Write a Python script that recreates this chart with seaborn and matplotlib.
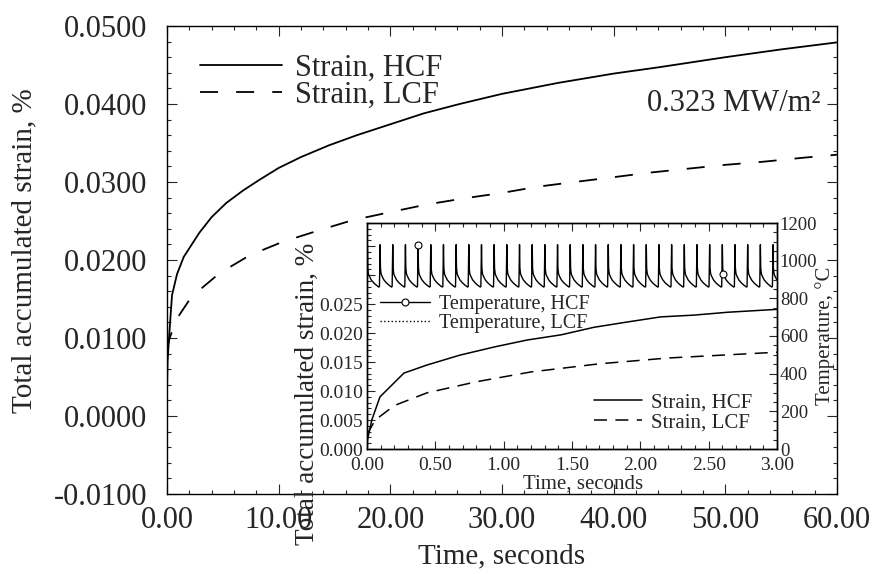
import numpy as np
import matplotlib
matplotlib.use("Agg")
import matplotlib.pyplot as plt
import seaborn as sns
from matplotlib.lines import Line2D
from matplotlib.ticker import MultipleLocator, FormatStrFormatter, FuncFormatter

# main plot: accumulated strain over 60 s
t_main_hcf = [0.0, 0.05, 0.18, 0.45, 0.9, 1.5, 2.9, 4.0, 5.3, 6.8, 8.3, 10.0, 12.0,
              14.5, 17.0, 20.0, 23.0, 26.2, 30.0, 35.0, 40.0, 44.0, 50.0, 55.0, 60.0]
strain_main_hcf = [0.0030, 0.0070, 0.0100, 0.0155, 0.0182, 0.0204, 0.0235, 0.0255,
                   0.0273, 0.0289, 0.0303, 0.0318, 0.0332, 0.0347, 0.0360, 0.0374,
                   0.0388, 0.0400, 0.0413, 0.0427, 0.0439, 0.0447, 0.0460, 0.0470,
                   0.0479]

t_main_lcf = [0.0, 0.2, 0.8, 2.2, 4.7, 7.4, 10.3, 13.6, 16.6, 20.2, 23.2, 26.6, 30.0,
              33.2, 36.5, 39.9, 43.2, 46.6, 50.0, 53.4, 56.9, 60.0]
strain_main_lcf = [0.0085, 0.0098, 0.0123, 0.0153, 0.0183, 0.0206, 0.0223, 0.0238,
                   0.0251, 0.0262, 0.0271, 0.0279, 0.0286, 0.0294, 0.0300, 0.0306,
                   0.0312, 0.0317, 0.0322, 0.0326, 0.0331, 0.0335]

# inset: first 3 s
t_in_hcf = [0.0, 0.007, 0.035, 0.095, 0.27, 0.44, 0.68, 0.93, 1.17, 1.42, 1.66, 1.90,
            2.15, 2.39, 2.64, 3.0]
strain_in_hcf = [0.0008, 0.0020, 0.0050, 0.0090, 0.0131, 0.0145, 0.0162, 0.0176,
                 0.0188, 0.0197, 0.0210, 0.0219, 0.0228, 0.0231, 0.0236, 0.0241]

t_in_lcf = [0.0, 0.06, 0.2, 0.44, 0.8, 1.2, 1.7, 2.2, 2.6, 3.0]
strain_in_lcf = [0.0025, 0.0050, 0.0075, 0.0097, 0.0116, 0.0133, 0.0147, 0.0157,
                 0.0162, 0.0167]

# one temperature cycle (HCF), phase within a cycle -> deg C, repeated every cycle
cycle_phase = [0.0, 0.03, 0.08, 0.15, 0.30, 0.50, 0.70, 0.90, 0.95, 0.975]
cycle_temp = [1085, 960, 930, 918, 898, 882, 870, 860, 862, 960]
cycle_period = 0.09275
first_peak = 0.003
n_cycles = 33

sns.set_style("ticks")
plt.rcParams["font.family"] = ["Liberation Serif", "DejaVu Serif"]
plt.rcParams["axes.unicode_minus"] = False
plt.rcParams["xtick.direction"] = "in"
plt.rcParams["ytick.direction"] = "in"

# build temperature trace from the repeated cycle
t_temp = []
temp_hcf = []
for k in range(n_cycles):
    for ph, T in zip(cycle_phase, cycle_temp):
        tt = first_peak + (k + ph) * cycle_period
        if tt <= 3.0:
            t_temp.append(tt)
            temp_hcf.append(T)
t_temp = np.array(t_temp)
temp_hcf = np.array(temp_hcf)
mark_idx = [4 * len(cycle_phase), 28 * len(cycle_phase) + 2]

fig = plt.figure(figsize=(8.78, 5.74), dpi=100)
W, H = 878, 574
ax = fig.add_axes([167 / W, 1 - 494 / H, (837 - 167) / W, (494 - 26) / H])

sns.lineplot(x=t_main_hcf, y=strain_main_hcf, ax=ax, color="black", lw=1.3,
             label="Strain, HCF")
sns.lineplot(x=t_main_lcf, y=strain_main_lcf, ax=ax, color="black", lw=1.3,
             linestyle=(0, (10, 10)), label="Strain, LCF")

ax.set_xlim(0, 60)
ax.set_ylim(-0.01, 0.05)
ax.xaxis.set_major_locator(MultipleLocator(10))
ax.xaxis.set_minor_locator(MultipleLocator(2))
ax.yaxis.set_major_locator(MultipleLocator(0.01))
ax.yaxis.set_minor_locator(MultipleLocator(0.002))
ax.xaxis.set_major_formatter(FormatStrFormatter("%.2f"))
ax.yaxis.set_major_formatter(FormatStrFormatter("%.4f"))
ax.tick_params(which="both", top=True, right=True, labelsize=22, width=0.8)
ax.tick_params(which="major", length=7)
ax.tick_params(which="minor", length=3)
ax.tick_params(axis="x", which="major", pad=9)
ax.tick_params(axis="y", which="major", pad=14)
for s in ax.spines.values():
    s.set_linewidth(1.0)
    s.set_color("black")
ax.set_xlabel("Time, seconds", fontsize=21)
ax.set_ylabel("Total accumulated strain, %", fontsize=21)
# label coords: top edge for the x label, right edge for the y label
ax.xaxis.set_label_coords(0.5, -0.105)
ax.yaxis.set_label_coords(-0.193, 0.519)
ax.legend(loc="upper left", bbox_to_anchor=(0.049, 0.941), frameon=False,
          fontsize=22, handlelength=2.7, handletextpad=0.4, labelspacing=-0.05,
          borderpad=0, borderaxespad=0)
ax.text(0.975, 0.835, "0.323 MW/m²", transform=ax.transAxes, ha="right",
        va="center", fontsize=22)

# inset
ax_in = fig.add_axes([367 / W, 1 - 449 / H, (777 - 367) / W, (449 - 223) / H])
ax_in.set_facecolor("white")
sns.lineplot(x=t_in_hcf, y=strain_in_hcf, ax=ax_in, color="black", lw=1.1,
             label="Strain, HCF")
sns.lineplot(x=t_in_lcf, y=strain_in_lcf, ax=ax_in, color="black", lw=1.1,
             linestyle=(0, (8.5, 5.5)), label="Strain, LCF")
ax_in.set_xlim(0, 3)
ax_in.set_ylim(0, 0.039)
ax_in.xaxis.set_major_locator(MultipleLocator(0.5))
ax_in.xaxis.set_minor_locator(MultipleLocator(0.1))
ax_in.yaxis.set_major_locator(MultipleLocator(0.005))
ax_in.yaxis.set_minor_locator(MultipleLocator(0.001))
ax_in.xaxis.set_major_formatter(FormatStrFormatter("%.2f"))
ax_in.yaxis.set_major_formatter(
    FuncFormatter(lambda v, p: "%.3f" % v if v <= 0.0251 else ""))
ax_in.tick_params(which="both", top=True, labelsize=14, width=0.8)
ax_in.tick_params(which="major", length=6)
ax_in.tick_params(which="minor", length=3)
ax_in.tick_params(axis="x", pad=6)
ax_in.tick_params(axis="y", pad=3)
ax_in.set_xlabel("Time, seconds", fontsize=15)
ax_in.set_ylabel("Total accumulated strain, %", fontsize=19.5)
ax_in.xaxis.set_label_coords(0.527, -0.112)
ax_in.yaxis.set_label_coords(-0.115, 0.244)
ax_in.legend(loc="lower right", bbox_to_anchor=(0.939, 0.075), frameon=False,
             fontsize=15, handlelength=2.3, handletextpad=0.43, labelspacing=0.0,
             borderpad=0, borderaxespad=0)

ax_t = ax_in.twinx()
sns.lineplot(x=t_temp, y=temp_hcf, ax=ax_t, color="black", lw=1.0,
             marker="o", markersize=5, mfc="white", mec="black", mew=0.8,
             markevery=mark_idx, legend=False)
ax_t.set_ylim(0, 1200)
ax_t.yaxis.set_major_locator(MultipleLocator(200))
ax_t.yaxis.set_minor_locator(MultipleLocator(50))
ax_t.tick_params(which="both", labelsize=13.5, width=0.8, pad=2)
ax_t.tick_params(which="major", length=6)
ax_t.tick_params(which="minor", length=3)
ax_t.set_ylabel("Temperature, °C", fontsize=15)
ax_t.yaxis.set_label_coords(1.093, 0.5)
for a in (ax_in, ax_t):
    for s in a.spines.values():
        s.set_linewidth(1.0)
        s.set_color("black")

temp_handles = [
    Line2D([], [], color="black", lw=1.0, marker="o", markersize=5, mfc="white",
           mec="black", mew=0.8, markevery=[1]),
    Line2D([], [], color="black", lw=1.0, linestyle=":"),
]
ax_t.legend(temp_handles, ["Temperature, HCF", "Temperature, LCF"],
            loc="upper left", bbox_to_anchor=(0.032, 0.683), frameon=False,
            fontsize=14.5, handlelength=2.5, handletextpad=0.4, labelspacing=0.0,
            borderpad=0, borderaxespad=0)

fig.savefig("out.png", dpi=100)
